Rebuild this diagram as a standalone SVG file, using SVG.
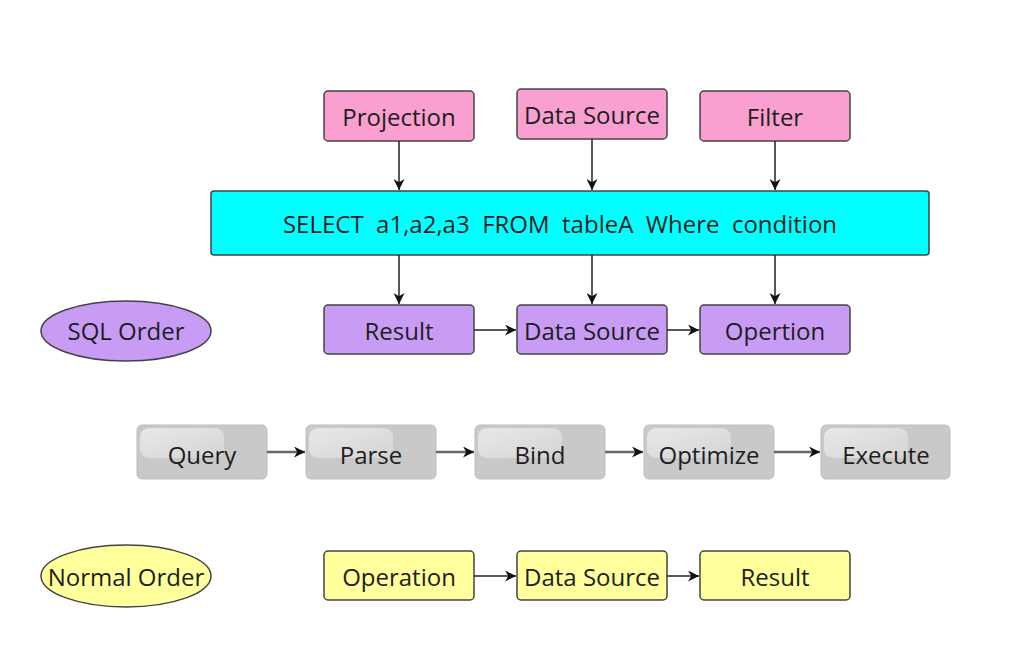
<svg xmlns="http://www.w3.org/2000/svg" width="1010" height="650" viewBox="0 0 1010 650">
<defs>
<marker id="ah" viewBox="0 0 10 10" refX="10" refY="5" markerWidth="11" markerHeight="11" markerUnits="userSpaceOnUse" orient="auto">
<path d="M0,0 L10,5 L0,10 L3,5 Z" fill="#111"/>
</marker>
<linearGradient id="hg" x1="0" y1="0" x2="1" y2="1">
<stop offset="0" stop-color="#e8e8e8"/>
<stop offset="1" stop-color="#d4d4d4"/>
</linearGradient>
</defs>
<style>
text{font-family:"Open Sans","DejaVu Sans",sans-serif;font-size:24px;fill:#1e1e1e;text-anchor:middle;dominant-baseline:central}
.pink{fill:#f9a0d0;stroke:#444;stroke-width:1.5}
.purple{fill:#c89cf5;stroke:#444;stroke-width:1.5}
.yellow{fill:#ffff9c;stroke:#444;stroke-width:1.5}
.cyan{fill:#00ffff;stroke:#444;stroke-width:1.5}
.gray{fill:#c9c9c9;stroke:#bdbdbd;stroke-width:1}
.hl{fill:url(#hg)}
.c line{stroke:#222;stroke-width:1.5;marker-end:url(#ah)}
.g line{stroke:#666;stroke-width:2.5;marker-end:url(#ah)}
</style>
<g id="projection"><rect class="pink" x="324" y="91" width="150" height="50" rx="4"/><text x="399" y="116">Projection</text></g>
<g id="datasource1"><rect class="pink" x="517" y="89" width="150" height="50" rx="4"/><text x="592" y="114">Data Source</text></g>
<g id="filter"><rect class="pink" x="700" y="91" width="150" height="50" rx="4"/><text x="775" y="116">Filter</text></g>
<g id="select"><rect class="cyan" x="211" y="191" width="718" height="64" rx="3"/><text x="560" y="223" xml:space="preserve">SELECT  a1,a2,a3  FROM  tableA  Where  condition</text></g>
<g id="sqlorder"><ellipse cx="126" cy="331" rx="85" ry="30" class="purple"/><text x="126" y="330">SQL Order</text></g>
<g id="result1"><rect class="purple" x="324" y="305" width="150" height="49" rx="4"/><text x="399" y="330">Result</text></g>
<g id="datasource2"><rect class="purple" x="517" y="305" width="150" height="49" rx="4"/><text x="592" y="330">Data Source</text></g>
<g id="opertion"><rect class="purple" x="700" y="305" width="150" height="49" rx="4"/><text x="775" y="330">Opertion</text></g>
<g id="query"><rect class="gray" x="137" y="425" width="130" height="54" rx="5"/><rect class="hl" x="140" y="428" width="84" height="30" rx="9"/><text x="202" y="454">Query</text></g>
<g id="parse"><rect class="gray" x="306" y="425" width="130" height="54" rx="5"/><rect class="hl" x="309" y="428" width="84" height="30" rx="9"/><text x="371" y="454">Parse</text></g>
<g id="bind"><rect class="gray" x="475" y="425" width="130" height="54" rx="5"/><rect class="hl" x="478" y="428" width="84" height="30" rx="9"/><text x="540" y="454">Bind</text></g>
<g id="optimize"><rect class="gray" x="644" y="425" width="130" height="54" rx="5"/><rect class="hl" x="647" y="428" width="84" height="30" rx="9"/><text x="709" y="454">Optimize</text></g>
<g id="execute"><rect class="gray" x="821" y="425" width="129" height="54" rx="5"/><rect class="hl" x="824" y="428" width="84" height="30" rx="9"/><text x="886" y="454">Execute</text></g>
<g id="normalorder"><ellipse cx="126" cy="576" rx="85" ry="31" class="yellow"/><text x="126" y="576">Normal Order</text></g>
<g id="operation"><rect class="yellow" x="324" y="551" width="150" height="49" rx="4"/><text x="399" y="576">Operation</text></g>
<g id="datasource3"><rect class="yellow" x="517" y="551" width="150" height="49" rx="4"/><text x="592" y="576">Data Source</text></g>
<g id="result2"><rect class="yellow" x="700" y="551" width="150" height="49" rx="4"/><text x="775" y="576">Result</text></g>
<g id="connectors">
<g class="c">
<line x1="399" y1="141" x2="399" y2="190"/>
<line x1="592" y1="139" x2="592" y2="190"/>
<line x1="775" y1="141" x2="775" y2="190"/>
<line x1="399" y1="255" x2="399" y2="304"/>
<line x1="592" y1="255" x2="592" y2="304"/>
<line x1="775" y1="255" x2="775" y2="304"/>
<line x1="474" y1="330" x2="516" y2="330"/>
<line x1="667" y1="330" x2="699" y2="330"/>
<line x1="474" y1="576" x2="516" y2="576"/>
<line x1="667" y1="576" x2="699" y2="576"/>
</g>
<g class="g">
<line x1="267" y1="452" x2="305" y2="452"/>
<line x1="436" y1="452" x2="474" y2="452"/>
<line x1="605" y1="452" x2="643" y2="452"/>
<line x1="774" y1="452" x2="820" y2="452"/>
</g>
</g>
</svg>
